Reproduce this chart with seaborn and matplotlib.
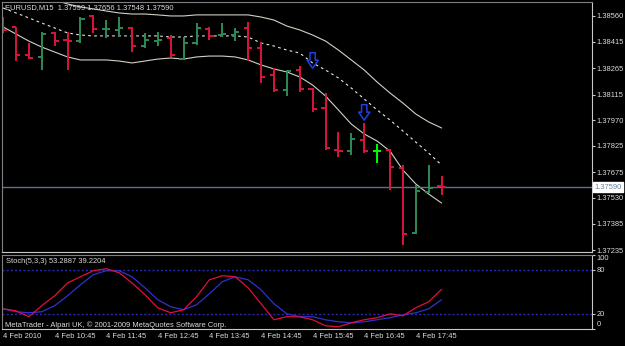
import matplotlib
matplotlib.use("Agg")
import matplotlib.pyplot as plt
import matplotlib.transforms as mtransforms
from matplotlib.path import Path
import seaborn as sns
import numpy as np

# ---------------- data ----------------
symbol = "EURUSD,M15"
time_labels = ["4 Feb 2010", "4 Feb 10:45", "4 Feb 11:45", "4 Feb 12:45", "4 Feb 13:45",
               "4 Feb 14:45", "4 Feb 15:45", "4 Feb 16:45", "4 Feb 17:45"]
label_bars = [0, 4, 8, 12, 16, 20, 24, 28, 32]

opens = [1.38526, 1.38498, 1.38339, 1.38328, 1.38464, 1.38424, 1.38418, 1.38560, 1.38484, 1.38481,
         1.38492, 1.38390, 1.38418, 1.38435, 1.38316, 1.38407, 1.38486, 1.38452, 1.38452, 1.38492,
         1.38379, 1.38226, 1.38141, 1.38254, 1.38147, 1.38039, 1.37801, 1.37796, 1.37858, 1.37796,
         1.37801, 1.37699, 1.37331, 1.37563, 1.37599]
highs = [1.38554, 1.38500, 1.38407, 1.38469, 1.38469, 1.38469, 1.38554, 1.38566, 1.38537, 1.38554,
         1.38495, 1.38464, 1.38469, 1.38452, 1.38441, 1.38520, 1.38498, 1.38520, 1.38492, 1.38526,
         1.38413, 1.38266, 1.38254, 1.38277, 1.38152, 1.38124, 1.37903, 1.37897, 1.37954, 1.37835,
         1.37807, 1.37716, 1.37603, 1.37716, 1.37656]
lows = [1.38464, 1.38305, 1.38316, 1.38254, 1.38390, 1.38254, 1.38407, 1.38464, 1.38435, 1.38441,
        1.38356, 1.38379, 1.38390, 1.38328, 1.38311, 1.38396, 1.38424, 1.38441, 1.38418, 1.38305,
        1.38181, 1.38130, 1.38107, 1.38130, 1.38016, 1.37801, 1.37762, 1.37773, 1.37784, 1.37728,
        1.37575, 1.37263, 1.37325, 1.37558, 1.37548]
closes = [1.38481, 1.38339, 1.38322, 1.38458, 1.38418, 1.38418, 1.38543, 1.38486, 1.38486, 1.38492,
          1.38390, 1.38424, 1.38424, 1.38339, 1.38407, 1.38492, 1.38447, 1.38458, 1.38469, 1.38379,
          1.38215, 1.38141, 1.38249, 1.38147, 1.38033, 1.37812, 1.37796, 1.37863, 1.37796, 1.37796,
          1.37705, 1.37325, 1.37569, 1.37586, 1.37590]

upper_band = [1.38719, 1.38696, 1.38684, 1.38673, 1.38651, 1.38628, 1.38611, 1.38600, 1.38588, 1.38577,
              1.38571, 1.38571, 1.38566, 1.38560, 1.38560, 1.38566, 1.38566, 1.38566, 1.38566, 1.38566,
              1.38554, 1.38537, 1.38503, 1.38481, 1.38452, 1.38418, 1.38367, 1.38311, 1.38254, 1.38186,
              1.38124, 1.38067, 1.38005, 1.37960, 1.37926]
mid_band = [1.38605, 1.38577, 1.38549, 1.38520, 1.38492, 1.38464, 1.38452, 1.38447, 1.38447, 1.38447,
            1.38447, 1.38447, 1.38447, 1.38441, 1.38441, 1.38447, 1.38447, 1.38447, 1.38447, 1.38441,
            1.38407, 1.38390, 1.38367, 1.38350, 1.38294, 1.38254, 1.38209, 1.38152, 1.38090, 1.38028,
            1.37971, 1.37909, 1.37846, 1.37784, 1.37716]
lower_band = [1.38498, 1.38458, 1.38418, 1.38384, 1.38356, 1.38328, 1.38311, 1.38311, 1.38311, 1.38305,
              1.38294, 1.38305, 1.38316, 1.38322, 1.38316, 1.38328, 1.38333, 1.38333, 1.38328, 1.38311,
              1.38283, 1.38260, 1.38243, 1.38215, 1.38169, 1.38107, 1.38028, 1.37948, 1.37892, 1.37852,
              1.37795, 1.37688, 1.37609, 1.37552, 1.37501]

arrow_bars = [24, 28]
arrow_prices = [1.38308, 1.38014]

stoch_k = [26.8, 24.1, 16.0, 31.0, 44.5, 62.0, 70.4, 78.6, 81.3, 75.9, 62.0, 46.0, 28.0, 21.4, 25.5,
           43.2, 66.3, 71.8, 70.4, 55.4, 33.7, 11.9, 16.0, 16.0, 11.9, 3.7, 2.3, 7.8, 11.9, 14.6,
           20.0, 17.3, 28.2, 36.4, 53.2887]
stoch_d = [26.8, 22.8, 21.4, 22.8, 31.0, 44.5, 59.5, 73.2, 78.6, 78.6, 70.4, 55.4, 39.1, 29.6, 25.5,
           32.3, 47.3, 63.6, 70.4, 66.3, 52.7, 33.7, 20.0, 16.0, 16.0, 11.9, 9.1, 7.8, 9.1, 11.9,
           14.6, 18.7, 21.4, 26.8, 39.2204]
stoch_levels = [20, 80]

price_ticks = [1.38560, 1.38415, 1.38265, 1.38115, 1.37970, 1.37825, 1.37675, 1.37530, 1.37385, 1.37235]
stoch_ticks = [0, 20, 80, 100]

# ---------------- style ----------------
sns.set_style("dark")
plt.rcParams['font.family'] = ['Liberation Sans', 'DejaVu Sans']
FS = 5.4
TXT = '#dcdcdc'
RED = '#dc143c'
GREEN = '#2e8b57'
LIME = '#00ff00'
BAND = '#d0d0c4'

W, H = 625, 346
fig = plt.figure(figsize=(W / 100, H / 100), dpi=100, facecolor='black')
ax = fig.add_axes([2 / W, 1 - 252 / H, 590 / W, 250 / H])
ax2 = fig.add_axes([2 / W, 1 - 328.5 / H, 590 / W, 73.5 / H])

for a in (ax, ax2):
    a.set_facecolor('black')
    a.grid(False)
    for s in ('left', 'top'):
        a.spines[s].set_color('#808080')
    for s in ('right', 'bottom'):
        a.spines[s].set_color('#c8c8c8')
    for s in a.spines.values():
        s.set_visible(True)
        s.set_linewidth(0.8)

n = len(opens)
x = np.arange(n)
o = np.array(opens); h = np.array(highs); l = np.array(lows); c = np.array(closes)
cols = np.where(c > o, GREEN, np.where(c < o, RED, LIME))

# bands
sns.lineplot(x=x, y=upper_band, ax=ax, color=BAND, lw=0.8)
sns.lineplot(x=x, y=lower_band, ax=ax, color=BAND, lw=0.8)
sns.lineplot(x=x, y=mid_band, ax=ax, color='#e8e8e8', lw=0.8, linestyle=(0, (2.4, 3.0)))

# current price line
ax.axhline(closes[-1], color='#5f7386', lw=1.0)

# OHLC bars
ax.vlines(x, l, h, colors=cols, lw=1.4)
ax.hlines(o, x - 0.32, x, colors=cols, lw=1.4)
ax.hlines(c, x, x + 0.32, colors=cols, lw=1.4)

# hollow down arrows
arrow_path = Path([(-0.17, 0.5), (0.17, 0.5), (0.17, 0.02), (0.36, 0.02), (0.0, -0.5),
                   (-0.36, 0.02), (-0.17, 0.02), (-0.17, 0.5)],
                  [Path.MOVETO] + [Path.LINETO] * 6 + [Path.CLOSEPOLY])
ax.scatter(arrow_bars, arrow_prices, marker=arrow_path, s=125, facecolors='none',
           edgecolors='#2040e0', linewidths=1.1, zorder=5)

ax.set_xlim(-0.08, 45.66)
ax.set_ylim(1.37224, 1.38639)
ax.set_xticks([])
ax.yaxis.tick_right()
ax.set_yticks(price_ticks)
ax.set_yticklabels([f"{v:.5f}" for v in price_ticks])
ax.tick_params(axis='y', colors='#c8c8c8', labelcolor=TXT, labelsize=FS, length=2, width=0.8, pad=1.5)
ax.set_xlabel(''); ax.set_ylabel('')

# current price label
tr = mtransforms.blended_transform_factory(ax.transAxes, ax.transData)
ax.text(1.004, closes[-1], f"{closes[-1]:.5f}", transform=tr, fontsize=FS, color='#6a84a0',
        va='center', ha='left',
        bbox=dict(boxstyle='square,pad=0.2', fc='white', ec='white'))

# stochastic
for lv in stoch_levels:
    ax2.axhline(lv, color='#2828b0', lw=1.0, linestyle=(0, (1.5, 1.5)))
sns.lineplot(x=x, y=stoch_d, ax=ax2, color='#3030d0', lw=0.9)
sns.lineplot(x=x, y=stoch_k, ax=ax2, color='#e0103c', lw=0.9)
ax2.set_xlim(-0.08, 45.66)
ax2.set_ylim(0, 100)
ax2.yaxis.tick_right()
ax2.set_yticks(stoch_ticks)
ax2.set_yticklabels([str(t) for t in stoch_ticks])
ax2.tick_params(axis='y', colors='#c8c8c8', labelcolor=TXT, labelsize=FS, length=2, width=0.8, pad=1.5)
yl = ax2.get_yticklabels()
yl[0].set_va('bottom')
yl[-1].set_va('top')
ax2.set_xticks(label_bars)
ax2.set_xticklabels(time_labels, ha='left')
ax2.tick_params(axis='x', colors='#c8c8c8', labelcolor=TXT, labelsize=FS, length=3, width=0.8,
                pad=0.5, direction='out')
ax2.set_xlabel(''); ax2.set_ylabel('')

# texts
fig.text(5 / W, 1 - 8 / H, f"{symbol}  {opens[-1]:.5f} {highs[-1]:.5f} {lows[-1]:.5f} {closes[-1]:.5f}",
         color=TXT, fontsize=FS, va='center', ha='left')
fig.text(5.5 / W, 1 - 261.5 / H, f"Stoch(5,3,3) {stoch_k[-1]:.4f} {stoch_d[-1]:.4f}",
         color=TXT, fontsize=FS, va='center', ha='left')
fig.text(5 / W, 1 - 325.5 / H, "MetaTrader - Alpari UK, \u00a9 2001-2009 MetaQuotes Software Corp.",
         color=TXT, fontsize=FS, va='center', ha='left')

fig.savefig('out.png', dpi=100, facecolor='black')
